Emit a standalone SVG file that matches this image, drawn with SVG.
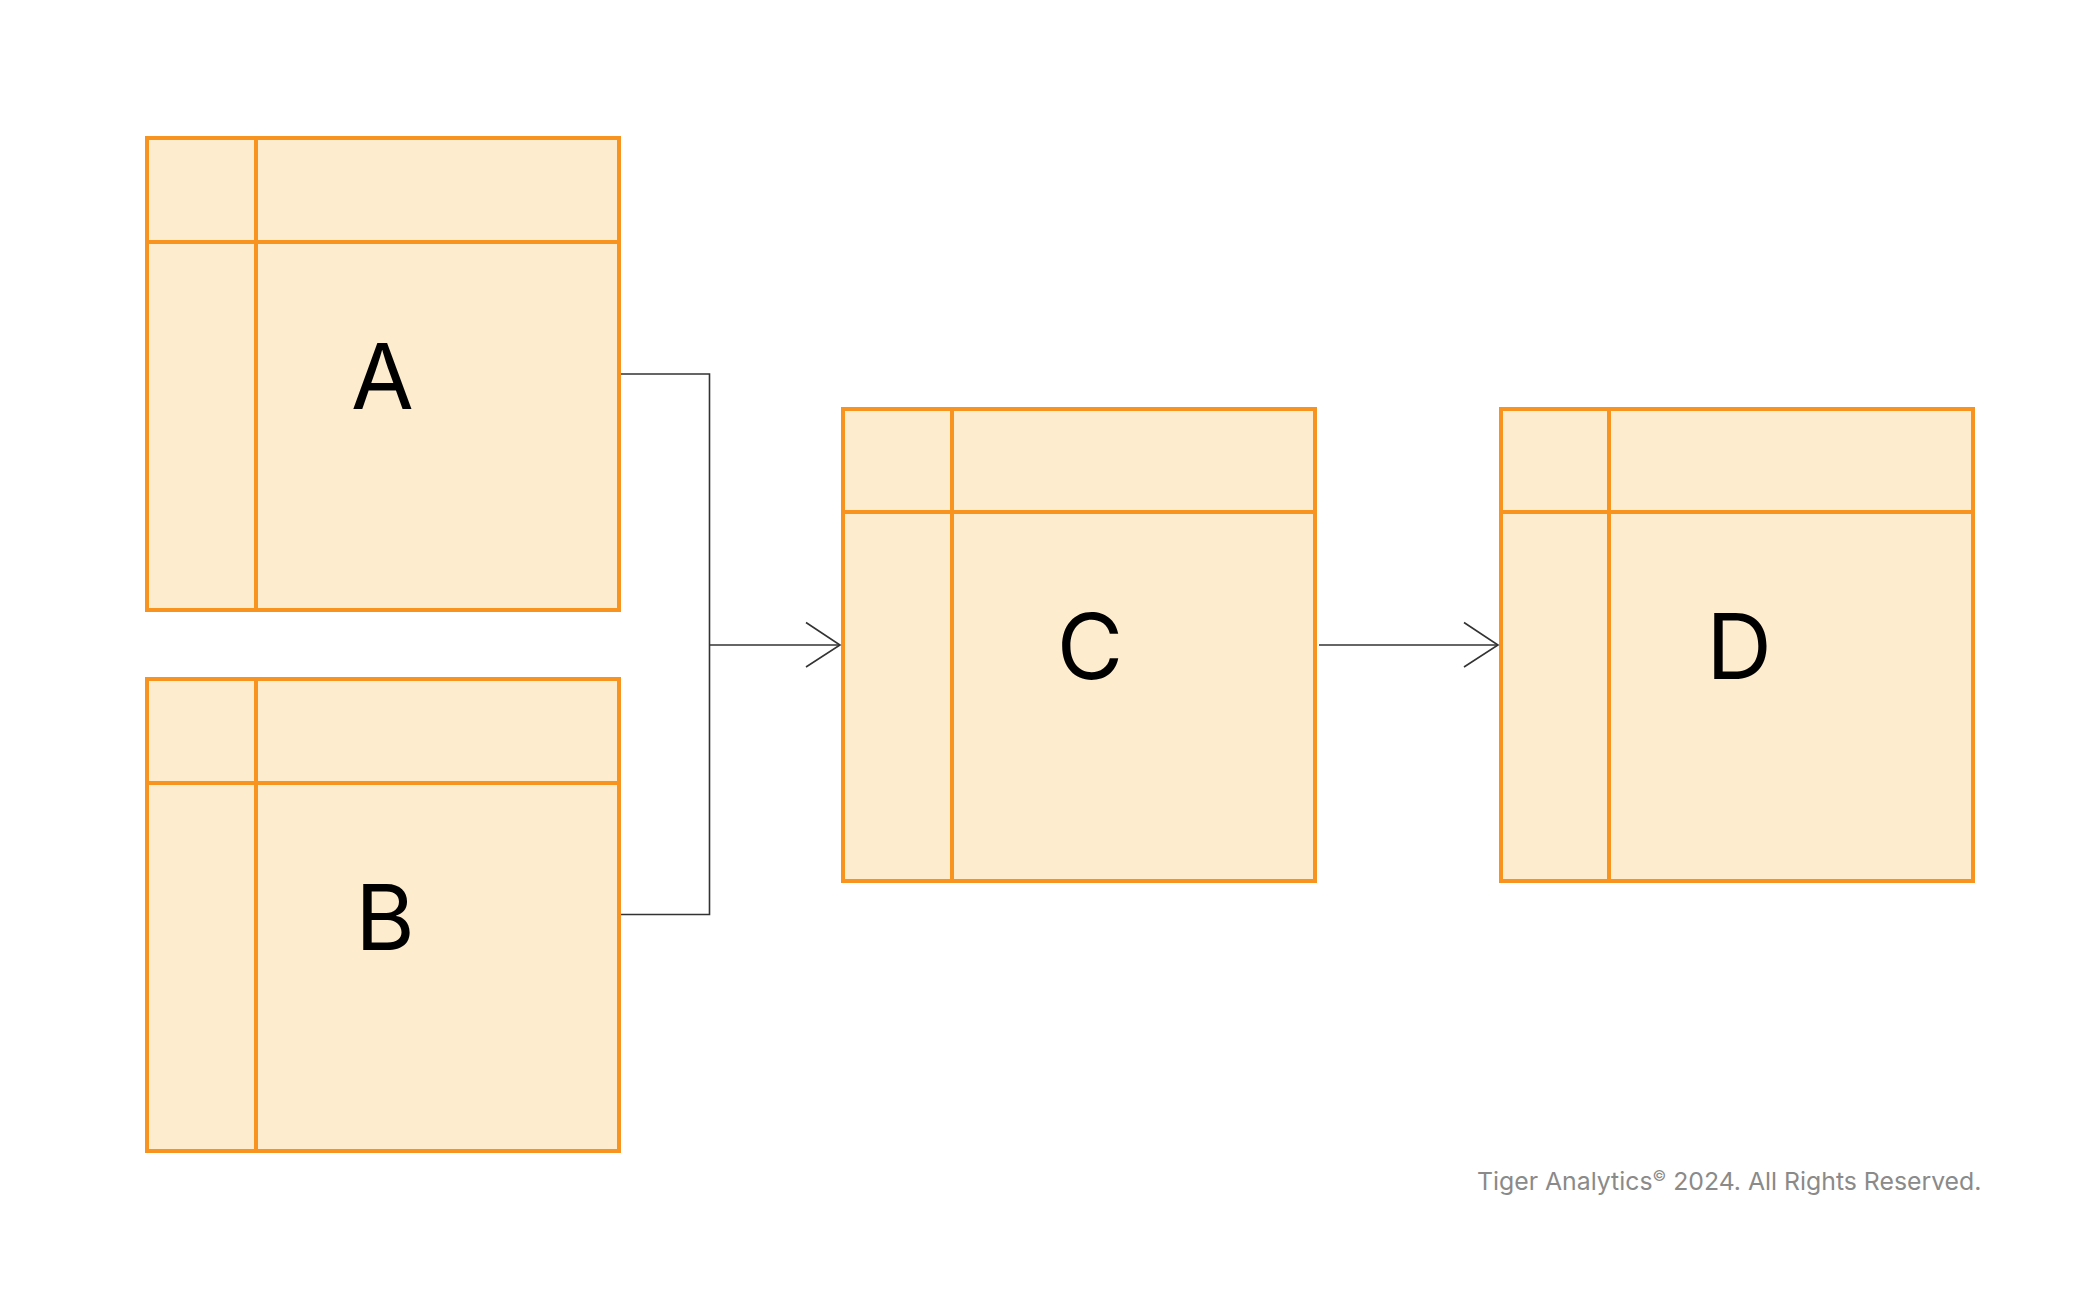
<svg xmlns="http://www.w3.org/2000/svg" width="2087" height="1290" viewBox="0 0 2087 1290">
<style>
.box{fill:#FDEDCE;stroke:#F7931E;stroke-width:4}
.div{fill:none;stroke:#F7931E;stroke-width:4}
.lbl{font-family:Inter,"Liberation Sans",sans-serif;font-size:91px;fill:#000;text-anchor:middle}
.con{fill:none;stroke:#333;stroke-width:1.6}
.foot{font-family:Inter,"Liberation Sans",sans-serif;font-size:24.8px;fill:#8a8a8a}
</style>
<rect width="2087" height="1290" fill="#fff"/>
<g id="nodeA">
<rect class="box" x="147" y="138" width="472" height="472"/>
<path class="div" d="M147 242H619M256 138V610"/>
<text class="lbl" x="382.5" y="409">A</text>
</g>
<g id="nodeB">
<rect class="box" x="147" y="679" width="472" height="472"/>
<path class="div" d="M147 783H619M256 679V1151"/>
<text class="lbl" x="385" y="950">B</text>
</g>
<g id="nodeC">
<rect class="box" x="843" y="409" width="472" height="472"/>
<path class="div" d="M843 512H1315M952 409V881"/>
<text class="lbl" x="1090" y="679">C</text>
</g>
<g id="nodeD">
<rect class="box" x="1501" y="409" width="472" height="472"/>
<path class="div" d="M1501 512H1973M1609 409V881"/>
<text class="lbl" x="1739" y="679">D</text>
</g>
<g id="connectors">
<path class="con" d="M621 374H709.5V914.5H621"/>
<path class="con" d="M709.5 645H840"/>
<path class="con" d="M806 622.5L840 645L806 667"/>
<path class="con" d="M1319 645H1498"/>
<path class="con" d="M1464 622.5L1498 645L1464 667"/>
</g>
<text class="foot" x="1477" y="1190">Tiger Analytics<tspan font-size="15" dy="-9">©</tspan><tspan dy="9"> 2024. All Rights Reserved.</tspan></text>
</svg>
